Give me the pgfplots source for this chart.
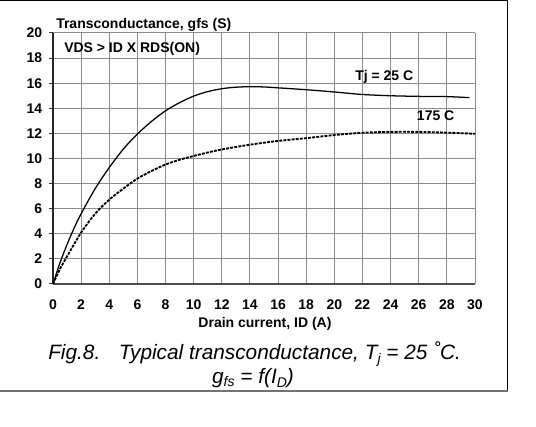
\documentclass[border=0pt]{standalone}
\usepackage{fontspec}
\setmainfont{Liberation Sans}
\usepackage{pgfplots}
\pgfplotsset{compat=1.18}
\begin{document}
\begin{tikzpicture}[x=0.75pt,y=0.75pt]
\path[use as bounding box] (0,0) rectangle (536,427);
\draw[black, line width=0.8pt] (0,426.6) -- (507.5,426.6) -- (507.5,36);
\draw[black!55, line width=0.8pt] (0,36) -- (507.5,36);
\begin{axis}[at={(39.75pt,107.25pt)}, anchor=south west, scale only axis,
  width=316.5pt, height=188.25pt,
  xmin=0, xmax=30, ymin=0, ymax=20,
  xtick={0,2,...,30}, ytick={0,2,...,20},
  grid=major, grid style={black!45, line width=0.75pt},
  axis x line*=bottom, axis y line*=left,
  x axis line style={-, draw=black!70, line width=0.8pt},
  y axis line style={-, draw=black!85, line width=0.8pt},
  tick align=outside, major tick length=3pt,
  xtick style={draw=none},
  ytick style={draw=black!80, line width=0.75pt},
  /pgf/number format/assume math mode=true,
  ticklabel style={font=\bfseries\fontsize{10.5}{11}\selectfont},
  xticklabel style={yshift=-5.5pt},
  yticklabel style={xshift=-1.6pt},
  clip=false,
]
\addplot[black, line width=0.95pt, smooth] coordinates {
(0,0) (0.5,1.7) (1,3.15) (1.5,4.45) (2,5.6) (3,7.6) (4,9.28) (5,10.75) (6,11.95)
(7,12.95) (8,13.8) (9,14.45) (10,14.97) (11,15.33) (12,15.56) (13,15.68)
(14,15.72) (15,15.7) (16,15.63) (18,15.48) (20,15.3) (22,15.1) (24,15.0)
(26,14.95) (28,14.93) (29.6,14.85)
};
\addplot[black, line width=1.4pt, dash pattern=on 2.2pt off 0.9pt, smooth] coordinates {
(0,0) (0.5,1.2) (1,2.2) (2,4.1) (3,5.6) (4,6.72) (5,7.6) (6,8.4) (7,9.0)
(8,9.52) (9,9.9) (10,10.2) (11,10.48) (12,10.72) (14,11.1) (16,11.4)
(18,11.62) (20,11.87) (22,12.05) (24,12.12) (26,12.12) (28,12.06) (30,11.97)
};
\end{axis}
\begin{scope}[every node/.style={inner sep=0pt, font=\bfseries\fontsize{10.5}{11}\selectfont}]
\node[anchor=base west] at (56,398.7) {Transconductance, gfs (S)};
\node[anchor=base west] at (64,374.3) {VDS > ID X RDS(ON)};
\node[anchor=base west] at (355,346) {Tj = 25 C};
\node[anchor=base west] at (416.7,306.3) {175 C};
\node[anchor=base] at (265,99.5) {Drain current, ID (A)};
\end{scope}
\begin{scope}[every node/.style={inner sep=0pt, font=\itshape\fontsize{15.6}{17}\selectfont}]
\node[anchor=base west] at (48,67) {Fig.8.\hspace{14pt}Typical transconductance, T\raisebox{-0.35ex}{\fontsize{10.5}{10}\selectfont j} = 25 \raisebox{0.1ex}{˚}C.};
\node[anchor=base] at (253,43.7) {g\raisebox{-0.3ex}{\fontsize{10.5}{10}\selectfont fs} = f(I\raisebox{-0.35ex}{\fontsize{10.5}{10}\selectfont D})};
\end{scope}
\end{tikzpicture}
\end{document}
